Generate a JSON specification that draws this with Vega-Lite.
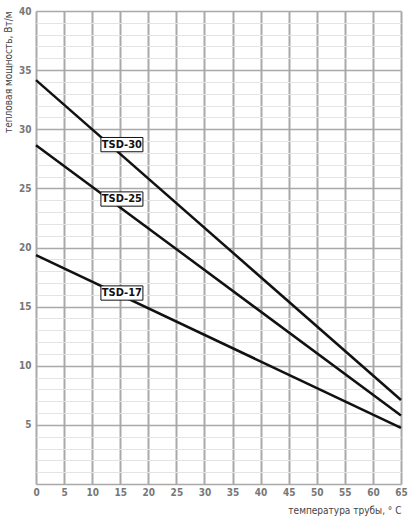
{
  "$schema": "https://vega.github.io/schema/vega-lite/v6.json",
  "autosize": "none",
  "width": 365,
  "height": 473,
  "padding": {"left": 36, "top": 11, "right": 10, "bottom": 36},
  "background": "white",
  "config": {"view": {"stroke": null}},
  "datasets": {
    "lines": [
      {"series": "TSD-30", "t": 0, "p": 34.15},
      {"series": "TSD-30", "t": 65, "p": 7.1},
      {"series": "TSD-25", "t": 0, "p": 28.65},
      {"series": "TSD-25", "t": 65, "p": 5.8},
      {"series": "TSD-17", "t": 0, "p": 19.35},
      {"series": "TSD-17", "t": 65, "p": 4.75}
    ],
    "labels": [
      {"label": "TSD-30", "t": 15.3, "p": 28.7},
      {"label": "TSD-25", "t": 15.3, "p": 24.1},
      {"label": "TSD-17", "t": 15.3, "p": 16.15}
    ]
  },
  "encoding": {
    "x": {
      "field": "t", "type": "quantitative",
      "scale": {"domain": [0, 65], "nice": false, "zero": false},
      "axis": {
        "title": "температура трубы, ° C",
        "titleAnchor": "end",
        "titleFont": "DejaVu Sans Condensed, Roboto, sans-serif",
        "titleFontSize": 10,
        "titleFontWeight": "normal",
        "titleColor": "#444444",
        "titlePadding": 8,
        "values": [0, 5, 10, 15, 20, 25, 30, 35, 40, 45, 50, 55, 60, 65],
        "grid": true,
        "gridColor": "#a9a9a9",
        "gridWidth": 2,
        "domain": false,
        "ticks": false,
        "labelPadding": 3,
        "labelFont": "DejaVu Sans Condensed, Roboto, sans-serif",
        "labelFontWeight": "bold",
        "labelFontSize": 10,
        "labelColor": "#777777",
        "labelFlush": false
      }
    },
    "y": {
      "field": "p", "type": "quantitative",
      "scale": {"domain": [0, 40], "nice": false, "zero": false},
      "axis": {
        "title": "тепловая мощность, Вт/м",
        "titleAnchor": "end",
        "titleFont": "DejaVu Sans Condensed, Roboto, sans-serif",
        "titleFontSize": 10,
        "titleFontWeight": "normal",
        "titleColor": "#444444",
        "titlePadding": 5,
        "values": [0,1,2,3,4,5,6,7,8,9,10,11,12,13,14,15,16,17,18,19,20,21,22,23,24,25,26,27,28,29,30,31,32,33,34,35,36,37,38,39,40],
        "labelExpr": "datum.value % 5 === 0 && datum.value > 0 ? datum.label : ''",
        "grid": true,
        "gridColor": {"condition": {"test": "datum.value % 5 === 0", "value": "#a9a9a9"}, "value": "#e4e4e4"},
        "gridWidth": {"condition": {"test": "datum.value % 5 === 0", "value": 1.5}, "value": 1},
        "domain": false,
        "ticks": false,
        "labelPadding": 5,
        "labelFont": "DejaVu Sans Condensed, Roboto, sans-serif",
        "labelFontWeight": "bold",
        "labelFontSize": 10,
        "labelColor": "#777777",
        "labelOverlap": false,
        "labelFlush": false
      }
    }
  },
  "layer": [
    {
      "data": {"name": "lines"},
      "mark": {"type": "line", "color": "#111111", "strokeWidth": 2.5},
      "encoding": {"detail": {"field": "series"}}
    },
    {
      "data": {"name": "labels"},
      "mark": {
        "type": "point",
        "shape": "M-1,-0.34L1,-0.34L1,0.34L-1,0.34Z",
        "size": 1764,
        "filled": true,
        "fill": "white",
        "stroke": "#111111",
        "strokeWidth": 1,
        "opacity": 1
      }
    },
    {
      "data": {"name": "labels"},
      "mark": {
        "type": "text",
        "font": "DejaVu Sans Condensed, Roboto, sans-serif",
        "fontWeight": "bold",
        "fontSize": 11,
        "color": "#111111",
        "baseline": "middle",
        "align": "center"
      },
      "encoding": {"text": {"field": "label"}}
    }
  ]
}
